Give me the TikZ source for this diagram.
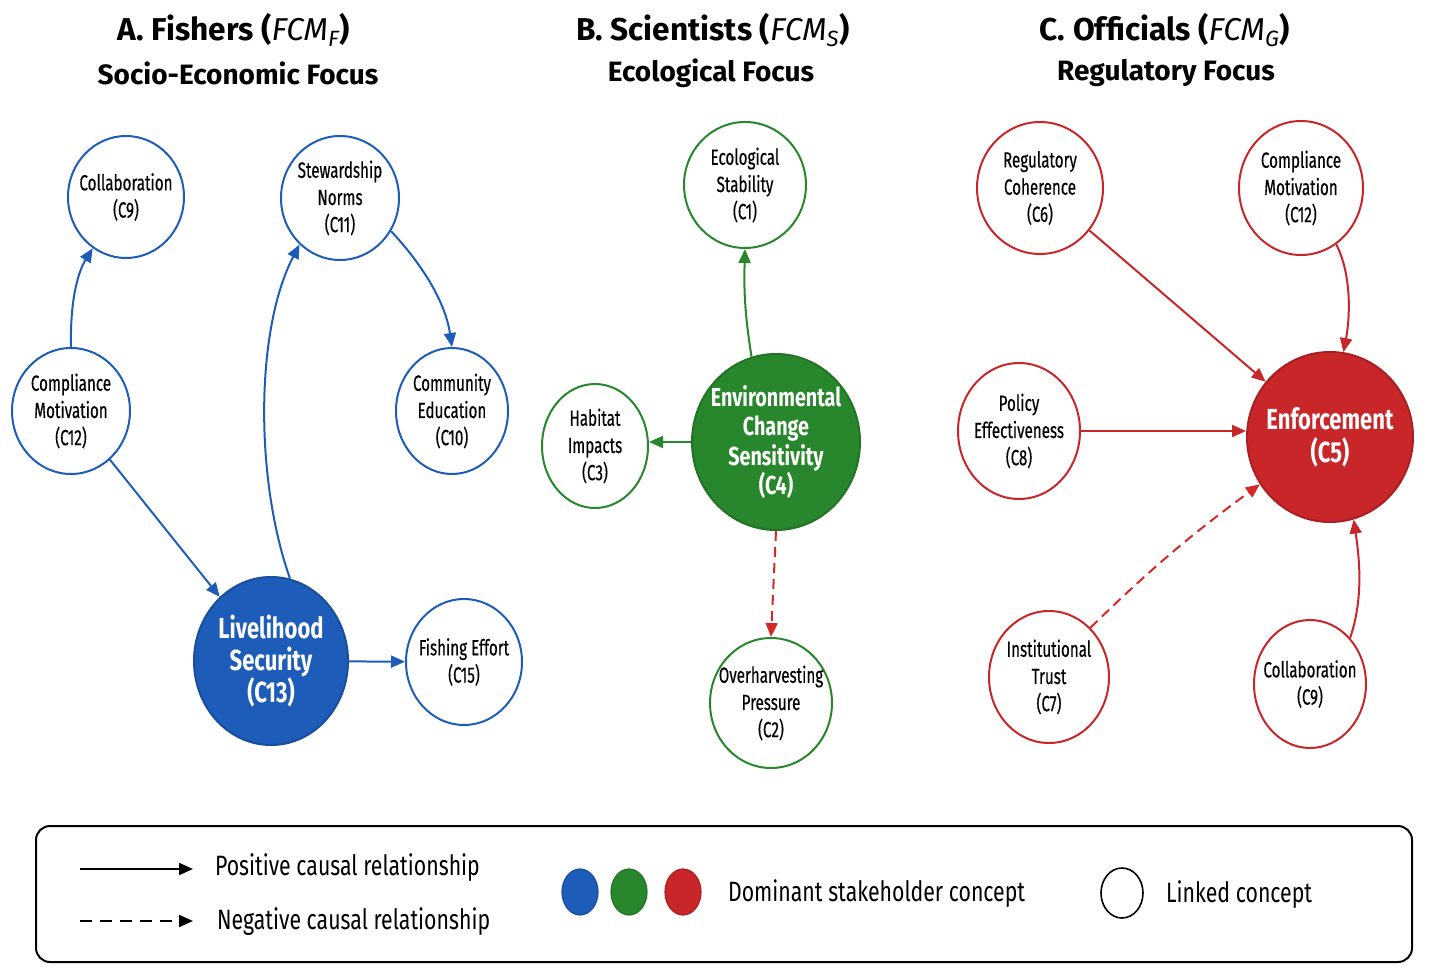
\documentclass[tikz,border=0pt]{standalone}
\usepackage{fontspec}
\setmainfont{Fira Sans}
\newfontfamily\nf[FakeStretch=0.69,FakeBold=0.35]{Fira Sans}
\newfontfamily\lf[FakeStretch=0.76]{Fira Sans}
\newfontfamily\df[FakeStretch=0.76]{Fira Sans}
\usetikzlibrary{shapes.geometric,arrows.meta}
\definecolor{cblue}{RGB}{30,92,185}
\definecolor{cgreen}{RGB}{40,135,45}
\definecolor{cred}{RGB}{200,38,40}
\definecolor{dred}{RGB}{215,40,40}
\tikzset{
  base/.style={ellipse, inner sep=-14pt, align=center, line width=1pt},
  lnk/.style={base, fill=white, text=black, font=\nf\fontsize{11}{13.6}\selectfont},
  lb/.style={lnk, draw=cblue},
  lg/.style={lnk, draw=cgreen},
  lr/.style={lnk, draw=cred},
  dom/.style={base, text=white, font=\df\bfseries\fontsize{14.5}{15.8}\selectfont},
  sz/.style 2 args={minimum width=#1pt, minimum height=#2pt},
  arr/.style={line width=1pt, -{Triangle[length=7pt,width=6pt]}},
  neg/.style={arr, dash pattern=on 5pt off 3pt},
  ttl/.style={font=\bfseries\fontsize{14}{16}\selectfont, text=black},
  ttla/.style={font=\bfseries\fontsize{15.8}{18}\selectfont, text=black},
  leg/.style={anchor=west, font=\lf\fontsize{14}{16}\selectfont, text=black},
}
\begin{document}
\begin{tikzpicture}[x=0.5pt,y=-0.5pt]
\useasboundingbox (0,0) rectangle (1448,980);

% titles
\node[ttla] (ta1) at (234,30) {A. Fishers ({\mdseries\itshape FCM}\textsubscript{\mdseries\itshape F})};
\node[ttl] (ta2) at (238,73) {Socio-Economic Focus};
\node[ttla] (tb1) at (713,30) {B. Scientists ({\mdseries\itshape FCM}\textsubscript{\mdseries\itshape S})};
\node[ttl] (tb2) at (711,73) {Ecological Focus};
\node[ttla] (tc1) at (1165,30) {C. Officials ({\mdseries\itshape FCM}\textsubscript{\mdseries\itshape G})};
\node[ttl] (tc2) at (1166,73) {Regulatory Focus};

% A. Fishers
\node[lb, sz={58}{61}] (a9) at (126,197) {Collaboration\\(C9)};
\node[lb, sz={59}{62}] (a11) at (340,198) {Stewardship\\Norms\\(C11)};
\node[lb, sz={59}{63}] (a12) at (71,411) {Compliance\\Motivation\\(C12)};
\node[lb, sz={56}{63}] (a10) at (452,411) {Community\\Education\\(C10)};
\node[dom, sz={77}{84}, fill=cblue, draw=cblue!85!black] (a13) at (271,661) {Livelihood\\Security\\(C13)};
\node[lb, sz={58}{63}] (a15) at (464,662) {Fishing Effort\\(C15)};

\draw[arr, cblue] (a12.north) .. controls (70,300) and (78,272) .. (a9.237);
\draw[arr, cblue] (a12) -- (a13);
\draw[arr, cblue] (a13.77) .. controls (255,480) and (255,330) .. (a11.229);
\draw[arr, cblue] (a11.-33) .. controls (420,262) and (445,300) .. (a10.north);
\draw[arr, cblue] (a13) -- (a15);

% B. Scientists
\node[lg, sz={61}{63}] (b1) at (745,185) {Ecological\\Stability\\(C1)};
\node[dom, sz={84}{88}, fill=cgreen, draw=cgreen!85!black, font=\df\bfseries\fontsize{13}{14.8}\selectfont] (b4) at (776,442) {Environmental\\Change\\Sensitivity\\(C4)};
\node[lg, sz={53}{62}] (b3) at (595,446) {Habitat\\Impacts\\(C3)};
\node[lg, sz={61}{65}] (b2) at (771,703) {Overharvesting\\Pressure\\(C2)};

\draw[arr, cgreen] (b4.106) .. controls (744,310) and (744,285) .. (b1.south);
\draw[arr, cgreen] (b4.west) -- (b4.west -| b3.east);
\draw[neg, dred] (b4.south) -- (b2.north);

% C. Officials
\node[lr, sz={63}{66}] (c6) at (1040,188) {Regulatory\\Coherence\\(C6)};
\node[lr, sz={62}{67}] (c12) at (1301,188) {Compliance\\Motivation\\(C12)};
\node[lr, sz={61}{68}] (c8) at (1019,431) {Policy\\Effectiveness\\(C8)};
\node[dom, sz={83}{85}, fill=cred, draw=cred!85!black, font=\df\bfseries\fontsize{14.5}{16.5}\selectfont] (c5) at (1330,437) {Enforcement\\(C5)};
\node[lr, sz={60}{66}] (c7) at (1049,677) {Institutional\\Trust\\(C7)};
\node[lr, sz={56}{64}] (c9) at (1310,684) {Collaboration\\(C9)};

\draw[arr, cred] (c6) -- (c5);
\draw[arr, cred] (c12.-58) .. controls (1352,275) and (1350,318) .. (c5.81);
\draw[arr, cred] (c8.east) -- (c8.east -| c5.west);
\draw[neg, dred] (c7.50) to[bend left=4] (c5.214);
\draw[arr, cred] (c9.49) .. controls (1363,600) and (1360,562) .. (c5.-74);

% legend
\node[draw=black, rounded corners=7pt, line width=1pt, minimum width=688pt, minimum height=68pt] (legend) at (724,894) {};
\coordinate (l1a) at (80,869);
\coordinate (l1b) at (193,869);
\coordinate (l2a) at (80,921);
\coordinate (l2b) at (193,921);
\draw[arr, black] (l1a) -- (l1b);
\draw[arr, black, dash pattern=on 6pt off 4pt] (l2a) -- (l2b);
\node[leg] (lt1) at (208,868) {Positive causal relationship};
\node[leg] (lt2) at (210,922) {Negative causal relationship};
\node[ellipse, fill=cblue, draw=cblue!85!black, line width=0.6pt, sz={18}{23}] (lbe) at (580,892) {};
\node[ellipse, fill=cgreen, draw=cgreen!85!black, line width=0.6pt, sz={18}{23}] (lge) at (629,892) {};
\node[ellipse, fill=cred, draw=cred!85!black, line width=0.6pt, sz={18}{23}] (lre) at (683,892) {};
\node[leg] (lt3) at (721,894) {Dominant stakeholder concept};
\node[ellipse, fill=white, draw=black, line width=0.8pt, sz={21}{25}] (lwe) at (1122,893) {};
\node[leg] (lt4) at (1159,895) {Linked concept};
\end{tikzpicture}
\end{document}
